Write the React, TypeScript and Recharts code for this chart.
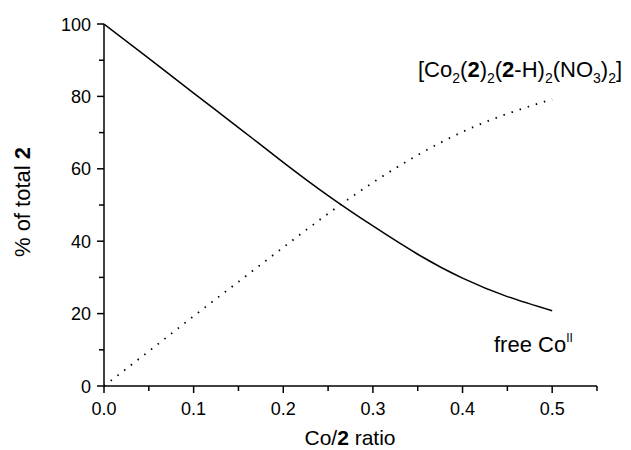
import { LineChart, Line, XAxis, YAxis } from 'recharts'

const ratios = [0, 0.05, 0.1, 0.15, 0.2, 0.25, 0.3, 0.35, 0.4, 0.45, 0.5]
const freeCo = [100, 90.5, 80.9, 71.4, 61.8, 52.6, 44.2, 36.4, 29.8, 24.7, 20.8]
const complex = [0, 9.6, 19.3, 28.8, 38.3, 47.6, 56.2, 63.8, 70.2, 75.2, 79.2]
const xTicks = [0, 0.05, 0.1, 0.15, 0.2, 0.25, 0.3, 0.35, 0.4, 0.45, 0.5, 0.55]
const yTicks = [0, 10, 20, 30, 40, 50, 60, 70, 80, 90, 100]

const data = ratios.map((r, i) => ({ r, free: freeCo[i], complex: complex[i] }))

const font = '"Liberation Sans", Arial, sans-serif'
const TICK_SIZE = 0
const TICK_MARGIN = 0

const XTick = (props: any) => {
  const { x, y, payload } = props
  const axisY = y - TICK_SIZE - TICK_MARGIN
  const v = payload.value
  const major = Math.abs(Math.round(v * 10) - v * 10) < 1e-6 && v <= 0.5
  return (
    <g>
      <line x1={x} x2={x} y1={axisY} y2={axisY + (major ? 7 : 5)} stroke="#000" strokeWidth={1.5} />
      {major && (
        <text x={x} y={axisY + 29} textAnchor="middle" fontSize={18} fontFamily={font} fill="#000">
          {v.toFixed(1)}
        </text>
      )}
    </g>
  )
}

const YTick = (props: any) => {
  const { x, y, payload } = props
  const axisX = x + TICK_SIZE + TICK_MARGIN
  const v = payload.value
  const major = v % 20 === 0
  return (
    <g>
      <line x1={axisX} x2={axisX - (major ? 7 : 5)} y1={y} y2={y} stroke="#000" strokeWidth={1.5} />
      {major && (
        <text x={axisX - 13} y={y + 6.5} textAnchor="end" fontSize={18} fontFamily={font} fill="#000">
          {v}
        </text>
      )}
    </g>
  )
}

export default function App() {
  document.body.style.margin = '0'
  return (
    <div style={{ position: 'relative', width: 631, height: 450, background: '#fff' }}>
      <LineChart width={631} height={450} data={data} margin={{ top: 24, right: 34, left: 0, bottom: 0 }}>
        <XAxis
          dataKey="r"
          type="number"
          domain={[0, 0.55]}
          ticks={xTicks}
          interval={0}
          height={64}
          tickSize={TICK_SIZE}
          tickMargin={TICK_MARGIN}
          tickLine={false}
          tick={<XTick />}
          axisLine={{ stroke: '#000', strokeWidth: 1.5 }}
          allowDataOverflow
        />
        <YAxis
          type="number"
          domain={[0, 100]}
          ticks={yTicks}
          interval={0}
          width={104}
          tickSize={TICK_SIZE}
          tickMargin={TICK_MARGIN}
          tickLine={false}
          tick={<YTick />}
          axisLine={{ stroke: '#000', strokeWidth: 1.5 }}
        />
        <Line
          dataKey="free"
          type="natural"
          stroke="#000"
          strokeWidth={1.5}
          dot={false}
          isAnimationActive={false}
        />
        <Line
          dataKey="complex"
          type="natural"
          stroke="#000"
          strokeWidth={1.8}
          strokeDasharray="1.5 7"
          dot={false}
          isAnimationActive={false}
        />
      </LineChart>
      <svg
        width={631}
        height={450}
        style={{ position: 'absolute', left: 0, top: 0, pointerEvents: 'none' }}
        fontFamily={font}
        fill="#000"
      >
        <text x={22} y={202} fontSize={22} textAnchor="middle" dominantBaseline="central" transform="rotate(-90 22 202)">
          % of total <tspan fontWeight="bold">2</tspan>
        </text>
        <text x={350} y={445} fontSize={21} textAnchor="middle">
          Co/<tspan fontWeight="bold">2</tspan> ratio
        </text>
        <text x={418} y={77} fontSize={22}>
          [Co<tspan fontSize={14} dy={6}>2</tspan>
          <tspan dy={-6}>(</tspan>
          <tspan fontWeight="bold">2</tspan>)<tspan fontSize={14} dy={6}>2</tspan>
          <tspan dy={-6}>(</tspan>
          <tspan fontWeight="bold">2</tspan>-H)<tspan fontSize={14} dy={6}>2</tspan>
          <tspan dy={-6}>(NO</tspan>
          <tspan fontSize={14} dy={6}>3</tspan>
          <tspan dy={-6}>)</tspan>
          <tspan fontSize={14} dy={6}>2</tspan>
          <tspan dy={-6}>]</tspan>
        </text>
        <text x={494} y={352} fontSize={22}>
          free Co<tspan fontSize={12} dy={-10}>II</tspan>
        </text>
      </svg>
    </div>
  )
}
